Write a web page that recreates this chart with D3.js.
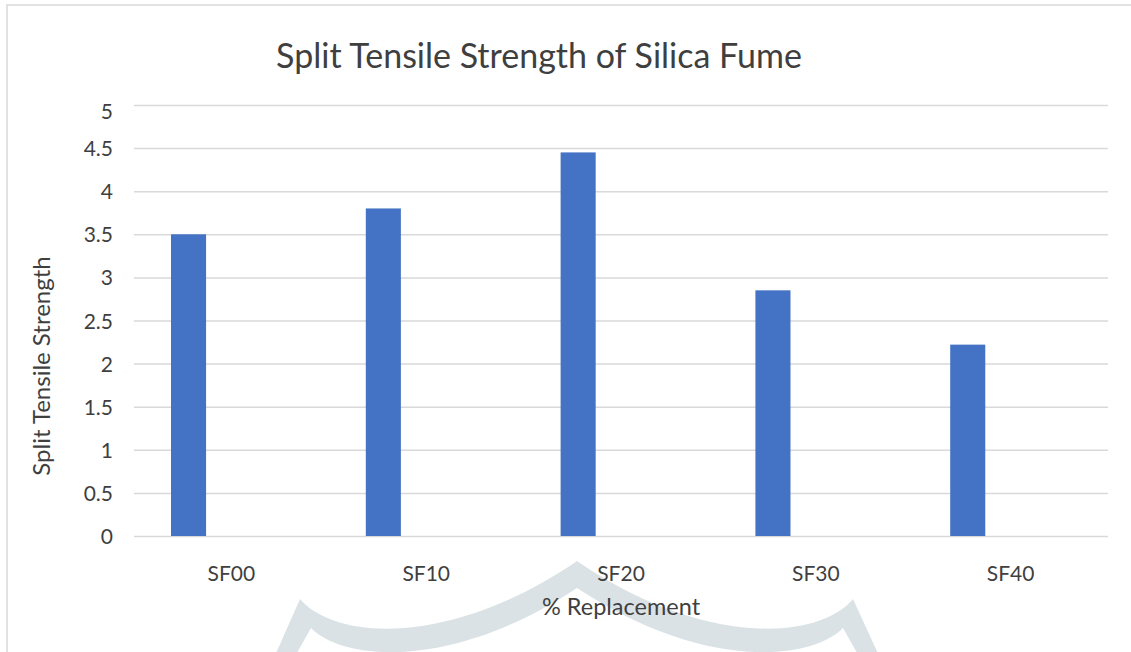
<!DOCTYPE html>
<html>
<head>
<meta charset="utf-8">
<script src="https://cdn.jsdelivr.net/npm/d3@7"></script>
<style>
  html, body { margin: 0; padding: 0; background: #fff; }
  svg { display: block; }
</style>
</head>
<body>
<svg id="chart" width="1131" height="652"></svg>
<script>
// ---- data ----
const categories = ["SF00", "SF10", "SF20", "SF30", "SF40"];
const strengthValues = [3.5, 3.8, 4.45, 2.85, 2.22];
const yTickValues = [0, 0.5, 1, 1.5, 2, 2.5, 3, 3.5, 4, 4.5, 5];
const titleText = "Split Tensile Strength of Silica Fume";
const xAxisTitle = "% Replacement";
const yAxisTitle = "Split Tensile Strength";

// ---- layout ----
const W = 1131, H = 652;
const plot = { left: 134, right: 1108, top: 105, bottom: 536 };
const font = "Lato, 'Open Sans', sans-serif";
const textColor = "#3f3f3f";
const gridColor = "#d9d9d9";
const barColor = "#4472c4";

const svg = d3.select("#chart");
svg.append("rect").attr("width", W).attr("height", H).attr("fill", "#fff");

// chart border (left + top visible)
svg.append("path")
  .attr("d", `M7,${H} L7,5 L${W},5`)
  .attr("fill", "none").attr("stroke", gridColor).attr("stroke-width", 1.5);

// scales
const x = d3.scaleBand().domain(categories).range([plot.left, plot.right]).paddingInner(0).paddingOuter(0);
const y = d3.scaleLinear().domain([0, 5]).range([plot.bottom, plot.top]);

// watermark (decorative)
svg.append("path")
  .attr("d",
    "M273,660 L300,599 C335,640 450,648 577,561 C704,648 819,640 853,599 L881,660 " +
    "L861,660 L843,628 C812,660 704,672 577,588 C450,672 342,660 311,628 L293,660 Z")
  .attr("fill", "#dbe2e6");

// y axis with gridlines
const yAxis = d3.axisLeft(y)
  .tickValues(yTickValues)
  .tickFormat(d3.format(""))
  .tickSizeInner(-(plot.right - plot.left))
  .tickSizeOuter(0)
  .tickPadding(21);

const gy = svg.append("g")
  .attr("transform", `translate(${plot.left},0)`)
  .call(yAxis);
gy.select(".domain").remove();
gy.selectAll(".tick line").attr("stroke", gridColor).attr("stroke-width", 1.5);
gy.selectAll(".tick text")
  .attr("fill", textColor)
  .style("font-family", font)
  .style("font-size", "21px")
  .attr("dy", "0.36em");
gy.selectAll(".tick").filter(d => d === 5).select("text").attr("dy", "0.62em");

// bars (first series slot of each category)
svg.append("g").selectAll("rect")
  .data(categories.map((c, i) => ({ c, v: strengthValues[i] })))
  .join("rect")
  .attr("x", d => x(d.c) + x.bandwidth() * 0.19)
  .attr("width", x.bandwidth() * 0.18)
  .attr("y", d => y(d.v))
  .attr("height", d => y(0) - y(d.v))
  .attr("fill", barColor);

// x axis category labels
const xAxis = d3.axisBottom(x).tickSize(0).tickPadding(30);
const gx = svg.append("g")
  .attr("transform", `translate(0,${plot.bottom})`)
  .call(xAxis);
gx.select(".domain").remove();
gx.selectAll(".tick text")
  .attr("fill", textColor)
  .style("font-family", font)
  .style("font-size", "21px");

// title
svg.append("text")
  .attr("x", 539).attr("y", 68)
  .attr("text-anchor", "middle")
  .attr("fill", textColor)
  .style("font-family", font)
  .style("font-size", "34px")
  .text(titleText);

// axis titles
svg.append("text")
  .attr("x", (plot.left + plot.right) / 2).attr("y", 615)
  .attr("text-anchor", "middle")
  .attr("fill", textColor)
  .style("font-family", font)
  .style("font-size", "23.5px")
  .text(xAxisTitle);

svg.append("text")
  .attr("transform", `translate(50,366) rotate(-90)`)
  .attr("text-anchor", "middle")
  .attr("fill", textColor)
  .style("font-family", font)
  .style("font-size", "24px")
  .text(yAxisTitle);
</script>
</body>
</html>
